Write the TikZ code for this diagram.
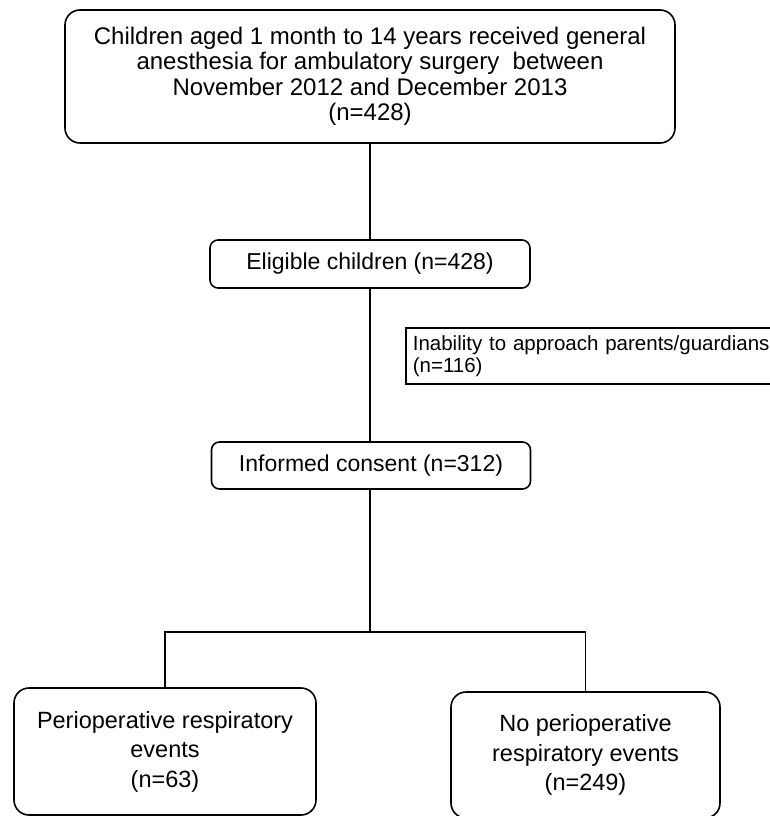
\documentclass[tikz,border=0pt]{standalone}
\usepackage{fontspec}
\setmainfont{Liberation Sans}

\begin{document}
\begin{tikzpicture}[x=1pt, y=-1pt, line width=1.3pt,
  box/.style={draw, line width=1.6pt, rounded corners=15pt, align=center, inner sep=0pt, font=\fontsize{23}{27}\selectfont},
  smallbox/.style={box, rounded corners=8pt},
  endbox/.style={box, font=\fontsize{23.5}{29.5}\selectfont}]
            \useasboundingbox (0,0) rectangle (769,816);
            \node[box, minimum width=610pt, minimum height=133pt, font=\fontsize{24}{25.5}\selectfont] (all) at (370,76.5) {Children aged 1 month to 14 years received general\\ anesthesia for ambulatory surgery\ \ between\\ November 2012 and December 2013\\ (n=428)};
            \node[smallbox, minimum width=320pt, minimum height=48pt] (elig) at (370,264) {Eligible children (n=428)};
            \node[draw, line width=1.6pt, anchor=west, align=left, text width=360pt, inner sep=0pt, inner xsep=7pt, minimum height=56pt, font=\fontsize{20.5}{22}\selectfont] (excl) at (405,356) {Inability to approach parents/guardians\\ (n=116)};
            \node[smallbox, minimum width=319pt, minimum height=47pt] (cons) at (371,465.5) {Informed consent (n=312)};
            \node[endbox, minimum width=302pt, minimum height=127pt] (evt) at (165,751.5) {Perioperative respiratory\\ events\\ (n=63)};
            \node[endbox, minimum width=269pt, minimum height=126pt] (noevt) at (585.5,755) {No perioperative\\ respiratory events\\ (n=249)};
            \coordinate (split) at (370,632);
            \draw (all) -- (elig);
            \draw (elig.south) -- (elig.south |- cons.north);
            \draw (cons.south -| split) -- (split);
            \draw (evt.north) |- (split) -| (noevt.north);
        \end{tikzpicture}
\end{document}
